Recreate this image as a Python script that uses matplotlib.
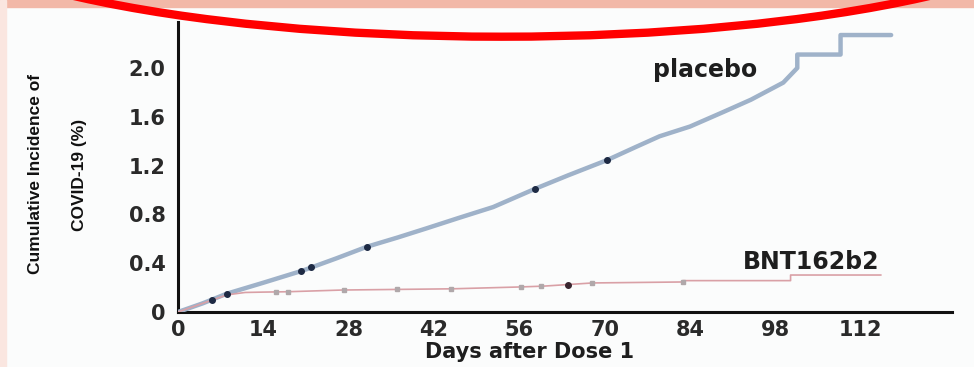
import numpy as np
import matplotlib.pyplot as plt
from matplotlib.patches import Ellipse, Rectangle

# cumulative incidence curves (days, %)
placebo_days = [0, 4, 8, 14, 20.5, 26, 31, 36, 40.8, 46, 51.7, 58.6, 64, 70.4, 75, 79,
                84, 89.5, 94, 99.3, 101.6, 101.6, 108.7, 108.7, 117]
placebo_vals = [0, 0.07, 0.15, 0.24, 0.34, 0.44, 0.535, 0.61, 0.686, 0.77, 0.86, 1.01,
                1.12, 1.245, 1.35, 1.44, 1.52, 1.64, 1.74, 1.88, 2.0, 2.11, 2.11, 2.27, 2.27]
placebo_mark_days = [5.5, 8, 20.2, 21.8, 31, 58.6, 70.4]
placebo_mark_vals = [0.1, 0.15, 0.34, 0.37, 0.535, 1.01, 1.245]

bnt_days = [0, 4, 8, 11, 14, 18, 27, 36, 45, 56, 60, 64, 68, 82.8, 82.8, 100.5, 100.5, 115.3]
bnt_vals = [0, 0.07, 0.14, 0.16, 0.163, 0.166, 0.18, 0.185, 0.19, 0.205, 0.212, 0.225,
            0.238, 0.246, 0.257, 0.257, 0.303, 0.303]
bnt_mark_days = [16, 18, 27.3, 36, 44.8, 56.3, 59.6, 68, 82.8]
bnt_mark_vals = [0.165, 0.166, 0.18, 0.185, 0.19, 0.205, 0.21, 0.238, 0.246]

xticks = [0, 14, 28, 42, 56, 70, 84, 98, 112]
yticks = [0, 0.4, 0.8, 1.2, 1.6, 2.0]
ytick_labels = ['0', '0.4', '0.8', '1.2', '1.6', '2.0']

fig = plt.figure(figsize=(9.74, 3.67), dpi=100, facecolor='#fbfcfc')

# salmon band at the top and faint pink left edge of the screenshot
fig.patches.append(Rectangle((0, 0.98), 1, 0.02, transform=fig.transFigure,
                             color='#f2b8a8', zorder=0))
fig.patches.append(Rectangle((0, 0), 0.006, 1, transform=fig.transFigure,
                             color='#fae6e0', zorder=0))

ax = fig.add_axes([0.1828, 0.1499, 0.7947, 0.7902])
ax.set_facecolor('none')

ax.plot(placebo_days, placebo_vals, color='#9fb2c9', lw=3.2, solid_capstyle='round', zorder=3)
ax.plot(placebo_mark_days, placebo_mark_vals, 'o', ms=4, color='#1e2a44', zorder=4)

ax.plot(bnt_days, bnt_vals, color='#d9a0a6', lw=1.2, zorder=3)
ax.plot(bnt_mark_days, bnt_mark_vals, 's', ms=3, color='#b0a8aa', zorder=4)
ax.plot([63.9], [0.225], 'o', ms=4, color='#3a2630', zorder=4)

ax.set_xlim(0, 127)
ax.set_ylim(0, 2.377)
ax.set_xticks(xticks)
ax.set_yticks(yticks)
ax.set_yticklabels(ytick_labels)

for s in ['top', 'right']:
    ax.spines[s].set_visible(False)
for s in ['left', 'bottom']:
    ax.spines[s].set_linewidth(2.2)
    ax.spines[s].set_color('#111111')

ax.tick_params(axis='both', length=0, labelsize=15, labelcolor='#2a2a2a')
ax.tick_params(axis='y', pad=9)
ax.tick_params(axis='x', pad=6)
for lab in ax.get_xticklabels() + ax.get_yticklabels():
    lab.set_fontweight('bold')

ax.text(86.5, 1.98, 'placebo', fontsize=17, fontweight='bold', color='#1e1e1e',
        ha='center', va='center')
ax.text(103.8, 0.41, 'BNT162b2', fontsize=17, fontweight='bold', color='#1e1e1e',
        ha='center', va='center')

fig.text(0.544, 0.041, 'Days after Dose 1', fontsize=15, fontweight='bold',
         color='#1e1e1e', ha='center', va='center')
fig.text(0.036, 0.526, 'Cumulative Incidence of', rotation=90, fontsize=12.5,
         fontweight='bold', family=['Liberation Sans', 'DejaVu Sans'], color='#111111',
         ha='center', va='center')
fig.text(0.082, 0.522, 'COVID-19 (%)', rotation=90, fontsize=12.5,
         fontweight='bold', family=['Liberation Sans', 'DejaVu Sans'], color='#111111',
         ha='center', va='center')

# red highlight ellipse drawn over the top of the screenshot
fig.patches.append(Ellipse((0.515, 1.27), 1.23, 0.74, transform=fig.transFigure,
                           fill=False, edgecolor='#ff0000', lw=6, zorder=10))

fig.savefig('out.png', dpi=100, facecolor=fig.get_facecolor())
